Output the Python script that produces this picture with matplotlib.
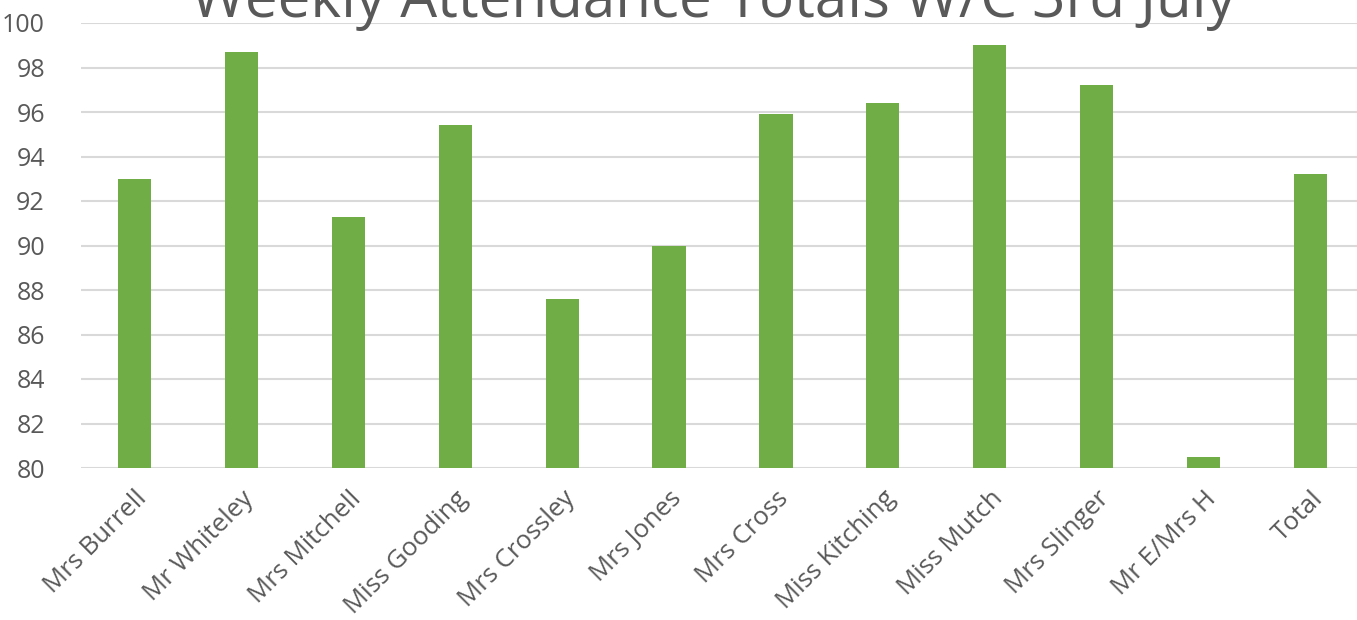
import matplotlib
matplotlib.use("Agg")
from matplotlib import pyplot as plt

# data
teachers = ["Mrs Burrell", "Mr Whiteley", "Mrs Mitchell", "Miss Gooding", "Mrs Crossley",
            "Mrs Jones", "Mrs Cross", "Miss Kitching", "Miss Mutch", "Mrs Slinger",
            "Mr E/Mrs H", "Total"]
attendance = [93.0, 98.7, 91.3, 95.4, 87.6, 90.0, 95.9, 96.4, 99.0, 97.2, 80.5, 93.2]
y_ticks = [80, 82, 84, 86, 88, 90, 92, 94, 96, 98, 100]

TEXT_GREY = "#595959"
GRID_GREY = "#D9D9D9"
BAR_GREEN = "#70AD47"

plt.rcParams["font.family"] = ["Open Sans", "DejaVu Sans"]

fig = plt.figure(figsize=(13.57, 6.2), dpi=100)
ax = fig.add_axes([81 / 1357, 1 - 468 / 620, (1364 - 81) / 1357, (468 - 23) / 620])

x = list(range(len(teachers)))
ax.bar(x, [v - 80 for v in attendance], bottom=80, width=0.31, color=BAR_GREEN, zorder=3)

ax.set_xlim(-0.5, len(teachers) - 0.5)
ax.set_ylim(80, 100)
ax.set_yticks(y_ticks)
ax.set_yticklabels([str(t) for t in y_ticks], fontsize=18, color=TEXT_GREY)
ax.set_xticks(x)
ax.set_xticklabels(teachers, rotation=45, ha="right", rotation_mode="anchor",
                   fontsize=18.5, color=TEXT_GREY)

ax.grid(axis="y", color=GRID_GREY, linewidth=1.5, zorder=0)
ax.tick_params(axis="both", length=0)
ax.tick_params(axis="y", pad=26)
ax.tick_params(axis="x", pad=13)
for side in ["top", "right", "left", "bottom"]:
    ax.spines[side].set_visible(False)

# title sits partly above the top edge, as in the reference
fig.text(713 / 1357, 1 - 17 / 620, "Weekly Attendance Totals W/C 3rd July",
         ha="center", va="baseline", fontsize=42, color=TEXT_GREY)

fig.savefig("out.png", dpi=100)
